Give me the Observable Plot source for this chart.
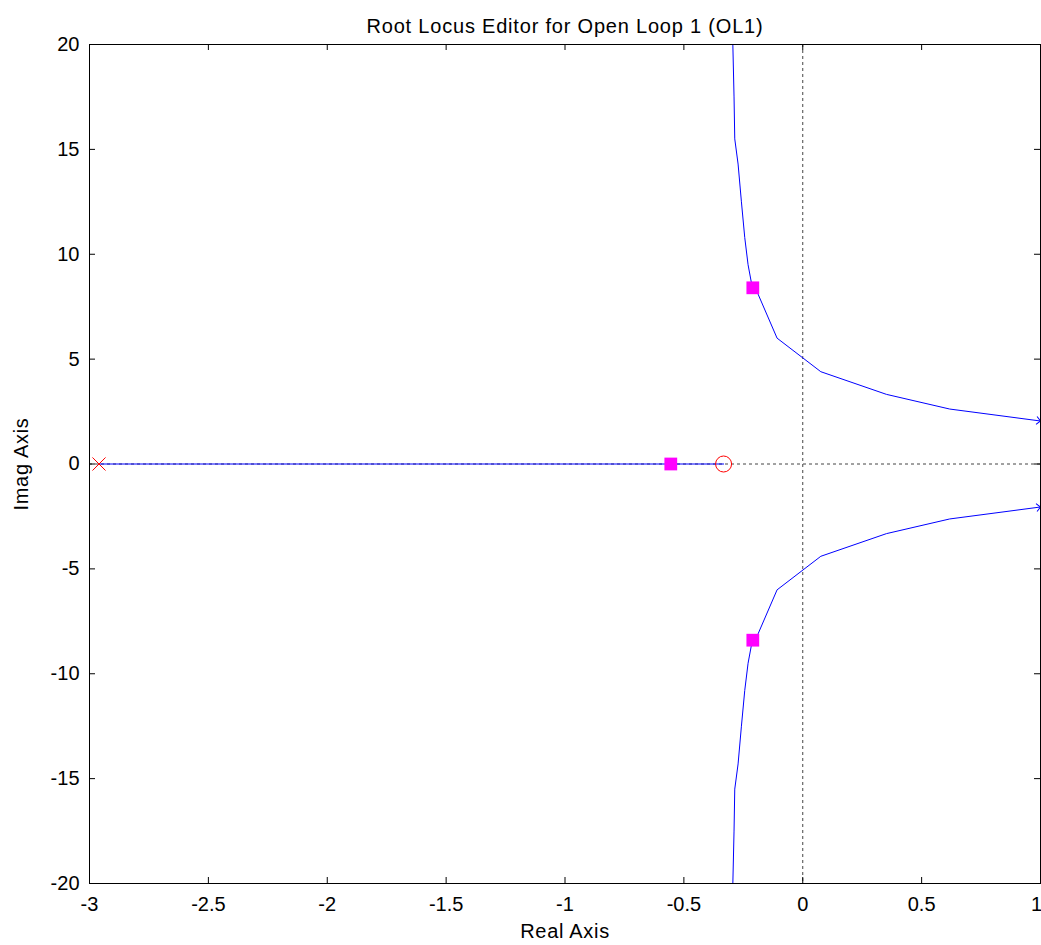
<!DOCTYPE html>
<html>
<head>
<meta charset="utf-8">
<script src="https://cdn.jsdelivr.net/npm/d3@7"></script>
<script src="https://cdn.jsdelivr.net/npm/@observablehq/plot@0.6"></script>
<style>
  html, body { margin: 0; padding: 0; background: #fff; }
  #chart svg { display: block; }
  g[aria-label="chart title"] text, g[aria-label="text"] text, text[aria-label="chart title"] { letter-spacing: 0.8px; }
  g[aria-label="x-axis label"] text, g[aria-label="y-axis label"] text { letter-spacing: 0.7px; }
</style>
</head>
<body>
<div id="chart"></div>
<script>
const title = "Root Locus Editor for Open Loop 1 (OL1)";
const xLabel = "Real Axis";
const yLabel = "Imag Axis";

const xTicks = [-3, -2.5, -2, -1.5, -1, -0.5, 0, 0.5, 1];
const yTicks = [-20, -15, -10, -5, 0, 5, 10, 15, 20];

// upper complex branch
const upperRe = [-0.294, -0.289, -0.286, -0.272, -0.258, -0.244, -0.230, -0.212, -0.188, -0.108, 0.076, 0.352, 0.618, 1.0];
const upperIm = [20, 17.5, 15.5, 14.3, 12.5, 10.8, 9.5, 8.4, 8.1, 6.0, 4.4, 3.32, 2.62, 2.05];
// lower complex branch
const lowerRe = [-0.294, -0.289, -0.286, -0.272, -0.258, -0.244, -0.230, -0.212, -0.188, -0.108, 0.076, 0.352, 0.618, 1.0];
const lowerIm = [-20, -17.5, -15.5, -14.3, -12.5, -10.8, -9.5, -8.4, -8.1, -6.0, -4.4, -3.32, -2.62, -2.05];
// real-axis branch (pole to zero)
const realRe = [-2.96, -0.333];
const realIm = [0, 0];

const poleRe = [-2.96], poleIm = [0];
const zeroRe = [-0.333], zeroIm = [0];
const clRe = [-0.21, -0.555, -0.21];
const clIm = [8.4, 0, -8.4];

const toPts = (re, im) => re.map((r, i) => ({re: r, im: im[i]}));
const upper = toPts(upperRe, upperIm);
const lower = toPts(lowerRe, lowerIm);
const realBranch = toPts(realRe, realIm);
const poles = toPts(poleRe, poleIm);
const zeros = toPts(zeroRe, zeroIm);
const closed = toPts(clRe, clIm);
const upperEnd = [upper[upper.length - 1]];
const lowerEnd = [lower[lower.length - 1]];

// open chevron symbol for locus end arrows
const chevron = {
  draw(ctx) {
    ctx.moveTo(-4, -4);
    ctx.lineTo(0, 0);
    ctx.lineTo(-4, 4);
  }
};

const W = 1041, H = 945;
const mL = 89, mR = 1, mT = 44, mB = 62;
const fw = W - mL - mR, fh = H - mT - mB;
const tl = 6;
const font = "Liberation Sans, Arial, Helvetica, sans-serif";
const fmt = d => String(d);

const plot = Plot.plot({
  width: W,
  height: H,
  marginLeft: mL, marginRight: mR, marginTop: mT, marginBottom: mB,
  style: {fontFamily: font, fontSize: "20px", color: "#000", background: "#fff", overflow: "visible"},
  x: {domain: [-3, 1], ticks: xTicks, label: null},
  y: {domain: [-20, 20], ticks: yTicks, label: null},
  marks: [
    Plot.ruleX([0], {stroke: "#444", strokeDasharray: "3,3", strokeWidth: 1}),
    Plot.ruleY([0], {stroke: "#444", strokeDasharray: "3,3", strokeWidth: 1}),
    Plot.line(realBranch, {x: "re", y: "im", stroke: "#0000ff", strokeWidth: 1}),
    Plot.line(upper, {x: "re", y: "im", stroke: "#0000ff", strokeWidth: 1}),
    Plot.line(lower, {x: "re", y: "im", stroke: "#0000ff", strokeWidth: 1}),
    Plot.dot(upperEnd, {x: "re", y: "im", symbol: chevron, r: 4, fill: "none", stroke: "#0000ff", strokeWidth: 1, rotate: 7.5}),
    Plot.dot(lowerEnd, {x: "re", y: "im", symbol: chevron, r: 4, fill: "none", stroke: "#0000ff", strokeWidth: 1, rotate: -7.5}),
    Plot.dot(closed, {x: "re", y: "im", symbol: "square", r: 7.2, fill: "#ff00ff", stroke: null}),
    Plot.dot(zeros, {x: "re", y: "im", symbol: "circle", r: 8, fill: "none", stroke: "#ff0000", strokeWidth: 1}),
    Plot.dot(poles, {x: "re", y: "im", symbol: "times", r: 6, stroke: "#ff0000", strokeWidth: 1}),
    // inward ticks on all four sides
    Plot.tickX(xTicks, {x: d => d, insetTop: fh - tl, stroke: "#000"}),
    Plot.tickX(xTicks, {x: d => d, insetBottom: fh - tl, stroke: "#000"}),
    Plot.tickY(yTicks, {y: d => d, insetRight: fw - tl, stroke: "#000"}),
    Plot.tickY(yTicks, {y: d => d, insetLeft: fw - tl, stroke: "#000"}),
    Plot.axisX({ticks: xTicks.slice(0, -1), tickSize: 0, tickPadding: 13, tickFormat: fmt, label: xLabel, labelAnchor: "center", labelArrow: "none", labelOffset: 54, fontSize: 20}),
    Plot.axisX({ticks: xTicks.slice(-1), tickSize: 0, tickPadding: 13, tickFormat: fmt, label: null, fontSize: 20, dx: -4}),
    Plot.axisY({ticks: yTicks, tickSize: 0, tickPadding: 10, tickFormat: fmt, label: yLabel, labelAnchor: "center", labelArrow: "none", labelOffset: 76, fontSize: 20}),
    Plot.frame({stroke: "#000", strokeWidth: 1}),
    Plot.text([title], {text: d => d, frameAnchor: "top", dy: -26, fontSize: 20, fill: "#000"})
  ]
});
document.getElementById("chart").appendChild(plot);
</script>
</body>
</html>
